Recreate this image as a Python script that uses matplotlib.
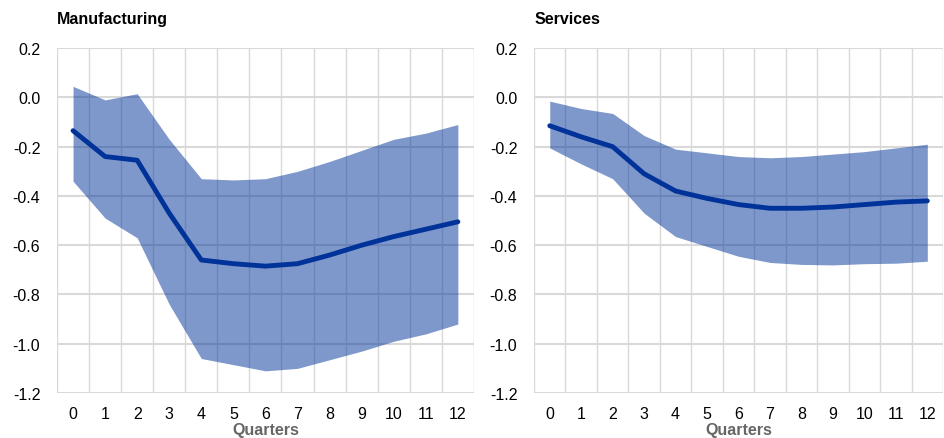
import numpy as np
import matplotlib
matplotlib.use("Agg")
import matplotlib.pyplot as plt

plt.rcParams["font.family"] = ["Liberation Sans", "DejaVu Sans"]

QUARTERS = list(range(13))

# Manufacturing: median response and confidence band
manuf_mid = [-0.135, -0.24, -0.255, -0.47, -0.66, -0.675, -0.685, -0.675, -0.64, -0.60, -0.565, -0.535, -0.505]
manuf_hi = [0.045, -0.01, 0.015, -0.17, -0.33, -0.335, -0.33, -0.30, -0.26, -0.215, -0.17, -0.145, -0.11]
manuf_lo = [-0.34, -0.49, -0.57, -0.84, -1.06, -1.085, -1.11, -1.10, -1.065, -1.03, -0.99, -0.96, -0.92]

# Services
serv_mid = [-0.115, -0.16, -0.20, -0.31, -0.38, -0.41, -0.435, -0.45, -0.45, -0.445, -0.435, -0.425, -0.42]
serv_hi = [-0.015, -0.045, -0.065, -0.155, -0.21, -0.225, -0.24, -0.245, -0.24, -0.23, -0.22, -0.205, -0.19]
serv_lo = [-0.205, -0.27, -0.33, -0.47, -0.565, -0.605, -0.645, -0.67, -0.678, -0.68, -0.675, -0.673, -0.665]

Y_TICKS = [0.2, 0.0, -0.2, -0.4, -0.6, -0.8, -1.0, -1.2]

LINE_COLOR = "#003399"
GRID_COLOR = "#d9d9d9"


def draw_panel(ax, title, mid, hi, lo):
    x = np.array(QUARTERS)
    # band is the line colour at half opacity, so the grid shows through
    ax.fill_between(x, lo, hi, color=LINE_COLOR, alpha=0.5, linewidth=0, zorder=2)
    ax.plot(x, mid, color=LINE_COLOR, linewidth=3.5, solid_capstyle="round", zorder=3)
    ax.set_xlim(-0.5, 12.5)
    ax.set_ylim(-1.2, 0.2)
    ax.set_yticks(Y_TICKS)
    ax.set_yticklabels([f"{v:.1f}" for v in Y_TICKS])
    ax.set_xticks(x)
    ax.set_xticklabels([str(q) for q in QUARTERS])
    ax.set_xticks(np.arange(-0.5, 13, 1), minor=True)
    ax.grid(True, which="minor", axis="x", color=GRID_COLOR, linewidth=1, zorder=1)
    ax.grid(True, which="major", axis="y", color=GRID_COLOR, linewidth=1.5, zorder=1)
    ax.grid(False, which="major", axis="x")
    ax.set_axisbelow(True)
    for s in ax.spines.values():
        s.set_visible(False)
    ax.tick_params(axis="both", which="both", length=0, labelsize=11.5, colors="#000000")
    ax.tick_params(axis="x", pad=9)
    ax.tick_params(axis="y", pad=12)
    ax.set_xlabel("Quarters", fontsize=11.5, fontweight="bold", color="#666666", labelpad=1)
    ax.text(0.0, 1.065, title, transform=ax.transAxes, fontsize=11.5, fontweight="bold",
            ha="left", va="bottom")


def main():
    fig = plt.figure(figsize=(9.44, 4.39), dpi=100)
    ax1 = fig.add_axes([0.0604, 0.1025, 0.4416, 0.7855])
    ax2 = fig.add_axes([0.5657, 0.1025, 0.4333, 0.7855])
    draw_panel(ax1, "Manufacturing", manuf_mid, manuf_hi, manuf_lo)
    draw_panel(ax2, "Services", serv_mid, serv_hi, serv_lo)
    fig.savefig("out.png", dpi=100)


if __name__ == "__main__":
    main()
